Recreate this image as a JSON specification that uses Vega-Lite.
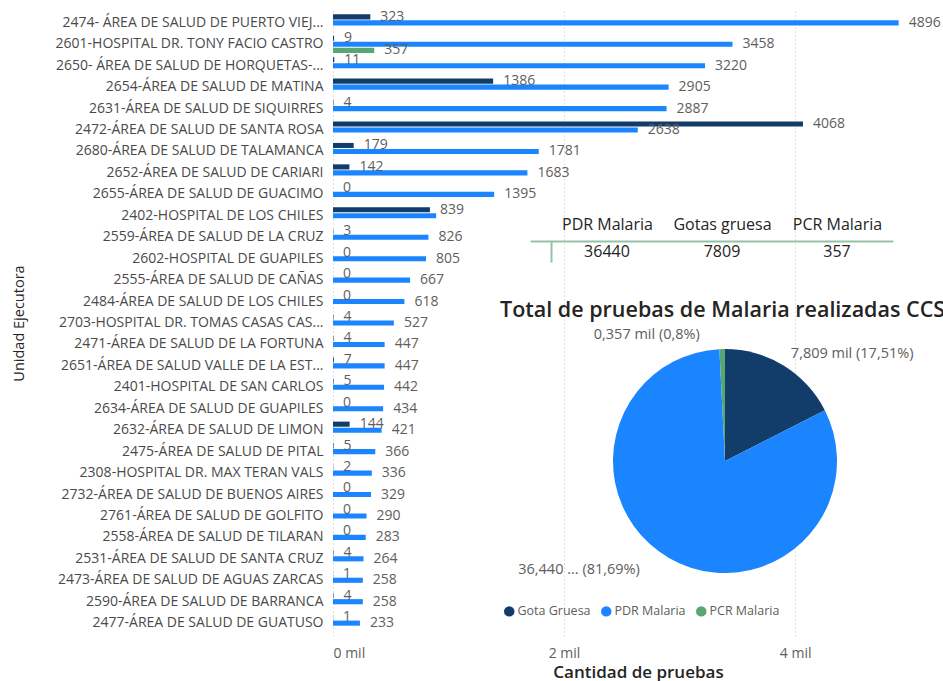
{
  "$schema": "https://vega.github.io/schema/vega-lite/v6.json",
  "width": 610,
  "height": 626,
  "autosize": {"type": "none"},
  "padding": {"left": 333, "top": 10, "right": 0, "bottom": 45},
  "background": "white",
  "config": {"view": {"stroke": null}, "font": "Open Sans"},
  "title": {
    "text": "Total de pruebas de Malaria realizadas CCSS",
    "anchor": "start",
    "frame": "group",
    "dx": 167,
    "dy": 323,
    "offset": 0,
    "baseline": "middle",
    "fontSize": 21.5,
    "fontWeight": 600,
    "color": "#252423",
    "font": "Open Sans"
  },
  "datasets": {
    "bars": [
      {"unit": "2474- ÁREA DE SALUD DE PUERTO VIEJ...", "series": "Gota Gruesa", "value": 323},
      {"unit": "2474- ÁREA DE SALUD DE PUERTO VIEJ...", "series": "PDR Malaria", "value": 4896},
      {"unit": "2601-HOSPITAL DR. TONY FACIO CASTRO", "series": "Gota Gruesa", "value": 9},
      {"unit": "2601-HOSPITAL DR. TONY FACIO CASTRO", "series": "PDR Malaria", "value": 3458},
      {"unit": "2601-HOSPITAL DR. TONY FACIO CASTRO", "series": "PCR Malaria", "value": 357},
      {"unit": "2650- ÁREA DE SALUD DE HORQUETAS-...", "series": "Gota Gruesa", "value": 11},
      {"unit": "2650- ÁREA DE SALUD DE HORQUETAS-...", "series": "PDR Malaria", "value": 3220},
      {"unit": "2654-ÁREA DE SALUD DE MATINA", "series": "Gota Gruesa", "value": 1386},
      {"unit": "2654-ÁREA DE SALUD DE MATINA", "series": "PDR Malaria", "value": 2905},
      {"unit": "2631-ÁREA DE SALUD DE SIQUIRRES", "series": "Gota Gruesa", "value": 4},
      {"unit": "2631-ÁREA DE SALUD DE SIQUIRRES", "series": "PDR Malaria", "value": 2887},
      {"unit": "2472-ÁREA DE SALUD DE SANTA ROSA", "series": "Gota Gruesa", "value": 4068},
      {"unit": "2472-ÁREA DE SALUD DE SANTA ROSA", "series": "PDR Malaria", "value": 2638},
      {"unit": "2680-ÁREA DE SALUD DE TALAMANCA", "series": "Gota Gruesa", "value": 179},
      {"unit": "2680-ÁREA DE SALUD DE TALAMANCA", "series": "PDR Malaria", "value": 1781},
      {"unit": "2652-ÁREA DE SALUD DE CARIARI", "series": "Gota Gruesa", "value": 142},
      {"unit": "2652-ÁREA DE SALUD DE CARIARI", "series": "PDR Malaria", "value": 1683},
      {"unit": "2655-ÁREA DE SALUD DE GUACIMO", "series": "Gota Gruesa", "value": 0},
      {"unit": "2655-ÁREA DE SALUD DE GUACIMO", "series": "PDR Malaria", "value": 1395},
      {"unit": "2402-HOSPITAL DE LOS CHILES", "series": "Gota Gruesa", "value": 839},
      {"unit": "2402-HOSPITAL DE LOS CHILES", "series": "PDR Malaria", "value": 893},
      {"unit": "2559-ÁREA DE SALUD DE LA CRUZ", "series": "Gota Gruesa", "value": 3},
      {"unit": "2559-ÁREA DE SALUD DE LA CRUZ", "series": "PDR Malaria", "value": 826},
      {"unit": "2602-HOSPITAL DE GUAPILES", "series": "Gota Gruesa", "value": 0},
      {"unit": "2602-HOSPITAL DE GUAPILES", "series": "PDR Malaria", "value": 805},
      {"unit": "2555-ÁREA DE SALUD DE CAÑAS", "series": "Gota Gruesa", "value": 0},
      {"unit": "2555-ÁREA DE SALUD DE CAÑAS", "series": "PDR Malaria", "value": 667},
      {"unit": "2484-ÁREA DE SALUD DE LOS CHILES", "series": "Gota Gruesa", "value": 0},
      {"unit": "2484-ÁREA DE SALUD DE LOS CHILES", "series": "PDR Malaria", "value": 618},
      {"unit": "2703-HOSPITAL DR. TOMAS CASAS CAS...", "series": "Gota Gruesa", "value": 4},
      {"unit": "2703-HOSPITAL DR. TOMAS CASAS CAS...", "series": "PDR Malaria", "value": 527},
      {"unit": "2471-ÁREA DE SALUD DE LA FORTUNA", "series": "Gota Gruesa", "value": 4},
      {"unit": "2471-ÁREA DE SALUD DE LA FORTUNA", "series": "PDR Malaria", "value": 447},
      {"unit": "2651-ÁREA DE SALUD VALLE DE LA EST...", "series": "Gota Gruesa", "value": 7},
      {"unit": "2651-ÁREA DE SALUD VALLE DE LA EST...", "series": "PDR Malaria", "value": 447},
      {"unit": "2401-HOSPITAL DE SAN CARLOS", "series": "Gota Gruesa", "value": 5},
      {"unit": "2401-HOSPITAL DE SAN CARLOS", "series": "PDR Malaria", "value": 442},
      {"unit": "2634-ÁREA DE SALUD DE GUAPILES", "series": "Gota Gruesa", "value": 0},
      {"unit": "2634-ÁREA DE SALUD DE GUAPILES", "series": "PDR Malaria", "value": 434},
      {"unit": "2632-ÁREA DE SALUD DE LIMON", "series": "Gota Gruesa", "value": 144},
      {"unit": "2632-ÁREA DE SALUD DE LIMON", "series": "PDR Malaria", "value": 421},
      {"unit": "2475-ÁREA DE SALUD DE PITAL", "series": "Gota Gruesa", "value": 5},
      {"unit": "2475-ÁREA DE SALUD DE PITAL", "series": "PDR Malaria", "value": 366},
      {"unit": "2308-HOSPITAL DR. MAX TERAN VALS", "series": "Gota Gruesa", "value": 2},
      {"unit": "2308-HOSPITAL DR. MAX TERAN VALS", "series": "PDR Malaria", "value": 336},
      {"unit": "2732-ÁREA DE SALUD DE BUENOS AIRES", "series": "Gota Gruesa", "value": 0},
      {"unit": "2732-ÁREA DE SALUD DE BUENOS AIRES", "series": "PDR Malaria", "value": 329},
      {"unit": "2761-ÁREA DE SALUD DE GOLFITO", "series": "Gota Gruesa", "value": 0},
      {"unit": "2761-ÁREA DE SALUD DE GOLFITO", "series": "PDR Malaria", "value": 290},
      {"unit": "2558-ÁREA DE SALUD DE TILARAN", "series": "Gota Gruesa", "value": 0},
      {"unit": "2558-ÁREA DE SALUD DE TILARAN", "series": "PDR Malaria", "value": 283},
      {"unit": "2531-ÁREA DE SALUD DE SANTA CRUZ", "series": "Gota Gruesa", "value": 4},
      {"unit": "2531-ÁREA DE SALUD DE SANTA CRUZ", "series": "PDR Malaria", "value": 264},
      {"unit": "2473-ÁREA DE SALUD DE AGUAS ZARCAS", "series": "Gota Gruesa", "value": 1},
      {"unit": "2473-ÁREA DE SALUD DE AGUAS ZARCAS", "series": "PDR Malaria", "value": 258},
      {"unit": "2590-ÁREA DE SALUD DE BARRANCA", "series": "Gota Gruesa", "value": 4},
      {"unit": "2590-ÁREA DE SALUD DE BARRANCA", "series": "PDR Malaria", "value": 258},
      {"unit": "2477-ÁREA DE SALUD DE GUATUSO", "series": "Gota Gruesa", "value": 1},
      {"unit": "2477-ÁREA DE SALUD DE GUATUSO", "series": "PDR Malaria", "value": 233}
    ],
    "totals": [
      {"metric": "PDR Malaria", "total": 36440},
      {"metric": "Gotas gruesa", "total": 7809},
      {"metric": "PCR Malaria", "total": 357}
    ],
    "pie": [
      {"series": "Gota Gruesa", "total": 7809, "label": "7,809 mil (17,51%)"},
      {"series": "PDR Malaria", "total": 36440, "label": "36,440 ... (81,69%)"},
      {"series": "PCR Malaria", "total": 357, "label": "0,357 mil (0,8%)"}
    ]
  },
  "layer": [
    {
      "data": {"name": "bars"},
      "encoding": {
        "y": {
          "field": "unit",
          "type": "nominal",
          "sort": null,
          "scale": {"paddingInner": 0.2},
          "axis": {
            "title": "Unidad Ejecutora",
            "titleFontSize": 14.5,
            "titleFontWeight": "normal",
            "titleColor": "#252423",
            "titleX": -314,
            "titleY": 313,
            "titleBaseline": "middle",
            "labelFontSize": 14,
            "labelColor": "#4a4a4a",
            "labelPadding": 10,
            "labelLimit": 400,
            "ticks": false,
            "domain": false,
            "grid": false
          }
        },
        "yOffset": {
          "field": "series",
          "type": "nominal",
          "scale": {"domain": ["Gota Gruesa", "PDR Malaria", "PCR Malaria"], "paddingInner": 0.15}
        },
        "x": {
          "field": "value",
          "type": "quantitative",
          "scale": {"domain": [0, 5280], "nice": false},
          "axis": {
            "values": [0, 2000, 4000],
            "labelExpr": "datum.value / 1000 + ' mil'",
            "title": "Cantidad de pruebas",
            "titleFontSize": 17,
            "titleFontWeight": 600,
            "titleColor": "#252423",
            "titlePadding": 4,
            "labelFontSize": 14,
            "labelColor": "#605E5C",
            "labelPadding": 10,
            "ticks": false,
            "domain": false,
            "grid": true,
            "gridDash": [1, 3],
            "gridColor": "#c4c4c4"
          }
        }
      },
      "layer": [
        {
          "mark": {"type": "bar"},
          "encoding": {
            "color": {
              "field": "series",
              "type": "nominal",
              "scale": {"domain": ["Gota Gruesa", "PDR Malaria", "PCR Malaria"], "range": ["#123C69", "#1A85FF", "#5AA574"]},
              "legend": {
                "orient": "none",
                "legendX": 170,
                "legendY": 595,
                "direction": "horizontal",
                "title": null,
                "symbolType": "circle",
                "symbolSize": 110,
                "symbolStrokeWidth": 0,
                "labelFontSize": 12.5,
                "labelColor": "#605E5C",
                "columnPadding": 9,
                "labelOffset": 2
              }
            }
          }
        },
        {
          "transform": [{"filter": "!(datum.unit == '2402-HOSPITAL DE LOS CHILES' && datum.series == 'PDR Malaria')"}],
          "mark": {"type": "text", "align": "left", "baseline": "middle", "dx": 10, "fontSize": 14, "color": "#605E5C"},
          "encoding": {"text": {"field": "value", "type": "quantitative"}}
        }
      ]
    },
    {
      "data": {"name": "totals"},
      "mark": {"type": "text", "fontSize": 16, "color": "#252423", "baseline": "middle"},
      "encoding": {
        "x": {
          "field": "metric",
          "type": "nominal",
          "sort": null,
          "scale": {"type": "point", "range": [197, 560], "padding": 0.578, "align": 0.579},
          "axis": {
            "orient": "top",
            "offset": -231,
            "title": null,
            "ticks": false,
            "grid": false,
            "domainColor": "#94C2A6",
            "domainWidth": 2,
            "labelAngle": 0,
            "labelFontSize": 16,
            "labelColor": "#252423",
            "labelPadding": 9
          }
        },
        "y": {
          "datum": "v",
          "type": "nominal",
          "scale": {"type": "point", "range": [231, 252], "padding": 0.5},
          "axis": {
            "orient": "left",
            "offset": -218,
            "title": null,
            "ticks": false,
            "labels": false,
            "grid": false,
            "domainColor": "#94C2A6",
            "domainWidth": 2
          }
        },
        "text": {"field": "total", "type": "quantitative", "format": "d"}
      }
    },
    {
      "data": {"name": "pie"},
      "encoding": {
        "theta": {"field": "total", "type": "quantitative", "stack": true, "scale": {"range": [1.09997, 7.38316]}},
        "order": {"field": "series", "sort": "descending"},
        "color": {"field": "series", "type": "nominal"}
      },
      "layer": [
        {"mark": {"type": "arc", "x": 392, "y": 451, "outerRadius": 112}},
        {
          "mark": {"type": "text", "x": 392, "y": 451, "radius": 126, "align": "left", "baseline": "middle", "fontSize": 14.5, "color": "#605E5C"},
          "encoding": {
            "text": {"condition": {"test": "datum.series == 'Gota Gruesa'", "field": "label"}, "value": ""},
            "color": {"value": "#605E5C"}
          }
        },
        {
          "mark": {"type": "text", "x": 392, "y": 451, "radius": 126, "align": "right", "baseline": "middle", "dx": -22, "fontSize": 14.5, "color": "#605E5C"},
          "encoding": {
            "text": {"condition": {"test": "datum.series != 'Gota Gruesa'", "field": "label"}, "value": ""},
            "color": {"value": "#605E5C"}
          }
        }
      ]
    }
  ],
  "resolve": {
    "scale": {"x": "independent", "y": "independent", "theta": "independent"},
    "axis": {"x": "independent", "y": "independent"}
  }
}
